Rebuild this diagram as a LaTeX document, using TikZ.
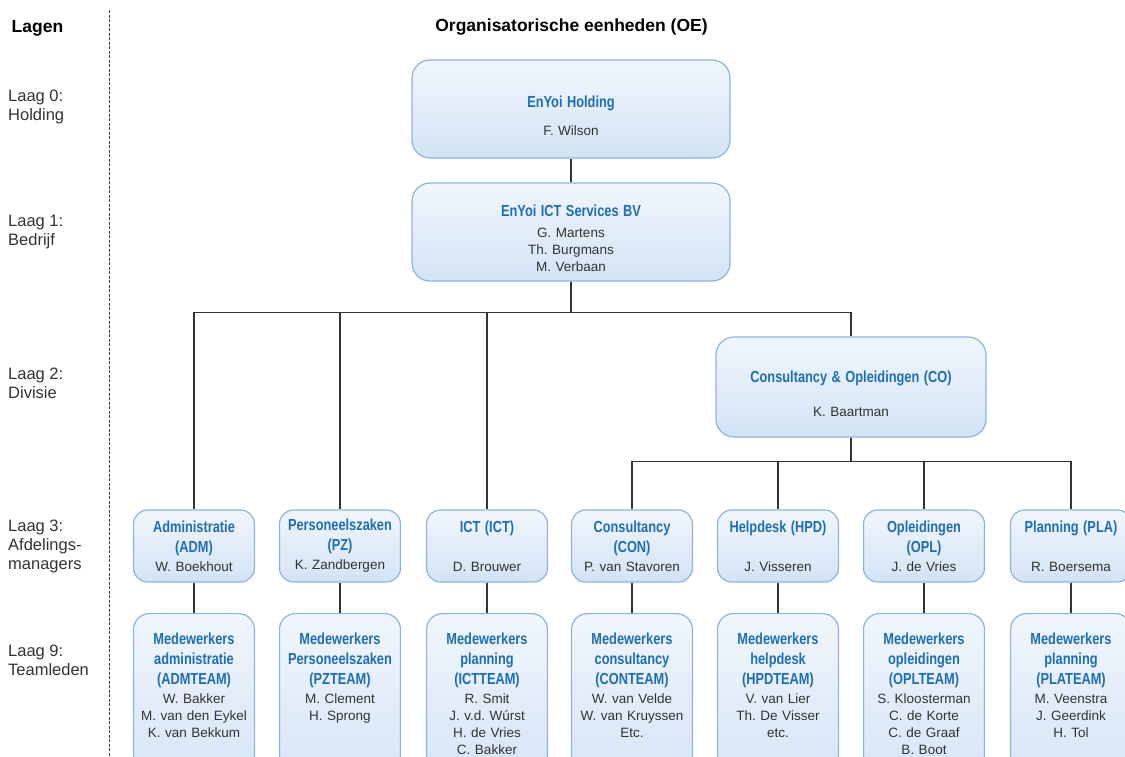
\documentclass[tikz,border=0pt]{standalone}
\usepackage{fontspec}
\setmainfont{Liberation Sans}
\newfontfamily\oenarrow[FakeStretch=0.8]{Liberation Sans}
\usepackage{xcolor}
\usepackage{tikz}
\usetikzlibrary{positioning, calc}
\definecolor{oeblue}{HTML}{1F6EB4}
\definecolor{oeborder}{HTML}{8DB4E0}
\definecolor{oetop}{HTML}{F1F6FC}
\definecolor{oebot}{HTML}{D3E3F5}
\definecolor{oetext}{HTML}{333333}
\definecolor{oeline}{HTML}{333333}
\newcommand\oetitle[1]{{\oenarrow\bfseries\fontsize{16}{20}\selectfont\color{oeblue}#1}}
\newcommand\oebody{\fontsize{13.5}{17}\selectfont}
\frenchspacing

\begin{document}
\begin{tikzpicture}[x=1pt, y=-1pt,
  unit/.style={rectangle, draw=oeborder, line width=1.2pt, top color=oetop,
               bottom color=oebot, align=center, text=oetext, font=\oebody},
  oebox/.style={unit, rounded corners=18pt, minimum width=318pt,
                minimum height=98pt, text width=300pt, inner sep=2pt,
                execute at begin node=\rule{0pt}{25pt}},
  dept/.style={unit, rounded corners=14pt, minimum width=121pt,
               minimum height=72pt, text width=117pt, inner sep=2pt},
  team/.style={unit, rounded corners=16pt, anchor=north, text width=117pt,
               inner xsep=2pt, inner ysep=19pt, text depth=130pt},
  laag/.style={anchor=west, align=left, inner sep=0pt, text=oetext,
               font=\fontsize{16.5}{19}\selectfont},
  kop/.style={inner sep=0pt, text=black, font=\fontsize{17.5}{19}\selectfont\bfseries},
  link/.style={draw=oeline, line width=1.2pt},
  divider/.style={draw=black!75, line width=1pt, dash pattern=on 3pt off 1.5pt},
]
\useasboundingbox (0,0) rectangle (1125,756);
\clip (0,0) rectangle (1125,756);

\node[kop]  (lagen) at (37.5, 28) {Lagen};
\node[kop]  (oe)    at (571.5, 27) {Organisatorische eenheden (OE)};
\coordinate (divtop) at (109, 10);
\coordinate (divbot) at (109, 756);
\draw[divider] (divtop) -- (divbot);

\node[laag] (laag0) at (8, 107)   {Laag 0:\\Holding};
\node[laag] (laag1) at (8, 232)   {Laag 1:\\Bedrijf};
\node[laag] (laag2) at (8, 383.5) {Laag 2:\\Divisie};
\node[laag] (laag3) at (8, 546)   {Laag 3:\\Afdelings-\\managers};
\node[laag] (laag9) at (8, 660.5) {Laag 9:\\Teamleden};

\node[oebox] (holding) at (571, 109) {\oetitle{EnYoi Holding}\\[11pt]F. Wilson};
\node[oebox] (bv)      at (571, 232) {\oetitle{EnYoi ICT Services BV}\\[4pt]G. Martens\\Th. Burgmans\\M. Verbaan};
\node[oebox, minimum width=270pt, minimum height=100pt, text width=260pt]
             (co)      at (851, 387) {\oetitle{Consultancy \& Opleidingen (CO)}\\[17pt]K. Baartman};

\node[dept] (adm) at (194, 546)  {\oetitle{Administratie}\\[3pt]\oetitle{(ADM)}\\[2pt]W. Boekhout};
\node[dept] (pz)  at (340, 546)  {\oetitle{Personeelszaken}\\[3pt]\oetitle{(PZ)}\\[2pt]K. Zandbergen};
\node[dept] (ict) at (487, 546)  {\oetitle{ICT (ICT)}\\[3pt]~\\[2pt]D. Brouwer};
\node[dept] (con) at (632, 546)  {\oetitle{Consultancy}\\[3pt]\oetitle{(CON)}\\[2pt]P. van Stavoren};
\node[dept] (hpd) at (778, 546)  {\oetitle{Helpdesk (HPD)}\\[3pt]~\\[2pt]J. Visseren};
\node[dept] (opl) at (924, 546)  {\oetitle{Opleidingen}\\[3pt]\oetitle{(OPL)}\\[2pt]J. de Vries};
\node[dept] (pla) at (1071, 546) {\oetitle{Planning (PLA)}\\[3pt]~\\[2pt]R. Boersema};

\node[team] (admteam) at (194, 613)  {\oetitle{Medewerkers}\\[3pt]\oetitle{administratie}\\[3pt]\oetitle{(ADMTEAM)}\\[2pt]W. Bakker\\M. van den Eykel\\K. van Bekkum};
\node[team] (pzteam)  at (340, 613)  {\oetitle{Medewerkers}\\[3pt]\oetitle{Personeelszaken}\\[3pt]\oetitle{(PZTEAM)}\\[2pt]M. Clement\\H. Sprong};
\node[team] (ictteam) at (487, 613)  {\oetitle{Medewerkers}\\[3pt]\oetitle{planning}\\[3pt]\oetitle{(ICTTEAM)}\\[2pt]R. Smit\\J. v.d. Wúrst\\H. de Vries\\C. Bakker};
\node[team] (conteam) at (632, 613)  {\oetitle{Medewerkers}\\[3pt]\oetitle{consultancy}\\[3pt]\oetitle{(CONTEAM)}\\[2pt]W. van Velde\\W. van Kruyssen\\Etc.};
\node[team] (hpdteam) at (778, 613)  {\oetitle{Medewerkers}\\[3pt]\oetitle{helpdesk}\\[3pt]\oetitle{(HPDTEAM)}\\[2pt]V. van Lier\\Th. De Visser\\etc.};
\node[team] (oplteam) at (924, 613)  {\oetitle{Medewerkers}\\[3pt]\oetitle{opleidingen}\\[3pt]\oetitle{(OPLTEAM)}\\[2pt]S. Kloosterman\\C. de Korte\\C. de Graaf\\B. Boot};
\node[team] (plateam) at (1071, 613) {\oetitle{Medewerkers}\\[3pt]\oetitle{planning}\\[3pt]\oetitle{(PLATEAM)}\\[2pt]M. Veenstra\\J. Geerdink\\H. Tol};

\draw[link] (holding) -- (bv);
\draw[link] (bv.south) -- ++(0,31) -| (adm.north);
\draw[link] (bv.south) -- ++(0,31) -| (pz.north);
\draw[link] (bv.south) -- ++(0,31) -| (ict.north);
\draw[link] (bv.south) -- ++(0,31) -| (co.north);
\draw[link] (co.south) -- ++(0,24) -| (con.north);
\draw[link] (co.south) -- ++(0,24) -| (hpd.north);
\draw[link] (co.south) -- ++(0,24) -| (opl.north);
\draw[link] (co.south) -- ++(0,24) -| (pla.north);
\draw[link] (adm) -- (admteam);
\draw[link] (pz)  -- (pzteam);
\draw[link] (ict) -- (ictteam);
\draw[link] (con) -- (conteam);
\draw[link] (hpd) -- (hpdteam);
\draw[link] (opl) -- (oplteam);
\draw[link] (pla) -- (plateam);
\end{tikzpicture}
\end{document}
